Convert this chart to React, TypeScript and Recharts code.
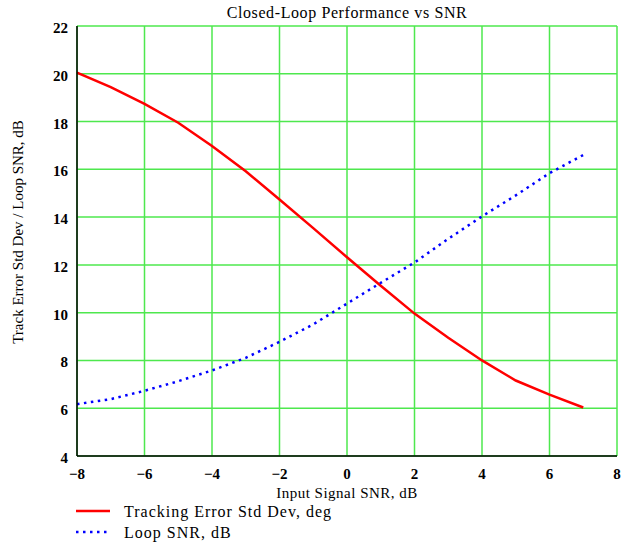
import React from 'react';
import { LineChart, Line, XAxis, YAxis, CartesianGrid, Label } from 'recharts';

const snr = [-8, -7, -6, -5, -4, -3, -2, -1, 0, 1, 2, 3, 4, 5, 6, 7];
const trackErr = [20.05, 19.44, 18.74, 17.95, 16.98, 15.92, 14.74, 13.54, 12.32, 11.13, 9.96, 8.95, 8.0, 7.16, 6.57, 6.03];
const loopSnr = [6.17, 6.38, 6.73, 7.13, 7.58, 8.11, 8.78, 9.51, 10.38, 11.25, 12.1, 13.09, 14.03, 14.91, 15.84, 16.6];
const xTicks = [-8, -6, -4, -2, 0, 2, 4, 6, 8];
const yTicks = [4, 6, 8, 10, 12, 14, 16, 18, 20, 22];

const seriesNames = ['Tracking Error Std Dev, deg', 'Loop SNR, dB'];

const data = snr.map((x, i) => ({ x, te: trackErr[i], ls: loopSnr[i] }));

const SERIF = '"Liberation Serif", "Times New Roman", serif';

const XTick = (props: any) => {
  const { x, y, payload } = props;
  const v = String(payload.value).replace('-', '\u2212');
  return (
    <text x={x} y={y} dy={21} textAnchor="middle" fontFamily={SERIF} fontSize={15} fontWeight="bold" fill="#000">
      {v}
    </text>
  );
};

const YTick = (props: any) => {
  const { x, y, payload } = props;
  return (
    <text x={x} y={y} dy={7} textAnchor="end" fontFamily={SERIF} fontSize={15} fontWeight="bold" fill="#000">
      {payload.value}
    </text>
  );
};

const LegendBox = () => (
  <svg width={400} height={44} style={{ position: 'absolute', left: 0, top: 500, display: 'block' }}>
    <line x1={76} y1={11} x2={110} y2={11} stroke="#ff0000" strokeWidth={2.5} />
    <text x={124} y={17} fontFamily={SERIF} fontSize={16} letterSpacing={1} fill="#000">{seriesNames[0]}</text>
    <line x1={76} y1={32} x2={110} y2={32} stroke="#0000ff" strokeWidth={2.5} strokeDasharray="2.5 4.5" />
    <text x={124} y={38} fontFamily={SERIF} fontSize={16} letterSpacing={1} fill="#000">{seriesNames[1]}</text>
  </svg>
);

export default function App() {
  return (
    <div style={{ position: 'absolute', left: 0, top: 0, width: 627, height: 544, background: '#fff' }}>
      <LineChart width={627} height={544} data={data} margin={{ top: 26, right: 10, left: 0, bottom: 0 }}>
        <text x={347} y={18} textAnchor="middle" fontFamily={SERIF} fontSize={16} letterSpacing={0.6} fill="#000">
          Closed-Loop Performance vs SNR
        </text>
        <text x={23} y={232} transform="rotate(-90 23 232)" textAnchor="middle" fontFamily={SERIF} fontSize={15} fill="#000">
          Track Error Std Dev / Loop SNR, dB
        </text>
        <CartesianGrid stroke="#4ee84e" strokeWidth={1.5} horizontalValues={yTicks} verticalValues={xTicks} />
        <XAxis
          dataKey="x"
          type="number"
          domain={[-8, 8]}
          ticks={xTicks}
          height={88}
          tickSize={0}
          tickMargin={2}
          tick={<XTick />}
          axisLine={{ stroke: '#000', strokeWidth: 1.5 }}
          tickLine={false}
          allowDataOverflow
        >
          <Label value="Input Signal SNR, dB" position="insideTop" offset={31} fontFamily={SERIF} fontSize={15} letterSpacing={0.5} fill="#000" />
        </XAxis>
        <XAxis xAxisId="top" orientation="top" type="number" domain={[-8, 8]} height={0} tick={false} tickLine={false} axisLine={{ stroke: '#3a8a3a', strokeWidth: 1 }} />
        <YAxis
          type="number"
          domain={[4, 22]}
          ticks={yTicks}
          width={77}
          tickSize={0}
          tickMargin={9}
          tick={<YTick />}
          axisLine={{ stroke: '#000', strokeWidth: 1.5 }}
          tickLine={false}
          allowDataOverflow
        />
        <YAxis yAxisId="right" orientation="right" type="number" domain={[4, 22]} width={0} tick={false} tickLine={false} axisLine={{ stroke: '#1d4d1d', strokeWidth: 1.5 }} />
        <Line type="linear" dataKey="te" name={seriesNames[0]} stroke="#ff0000" strokeWidth={2.5} dot={false} isAnimationActive={false} />
        <Line type="linear" dataKey="ls" name={seriesNames[1]} stroke="#0000ff" strokeWidth={2.5} strokeDasharray="2.5 4.5" dot={false} isAnimationActive={false} />
      </LineChart>
      <LegendBox />
    </div>
  );
}
